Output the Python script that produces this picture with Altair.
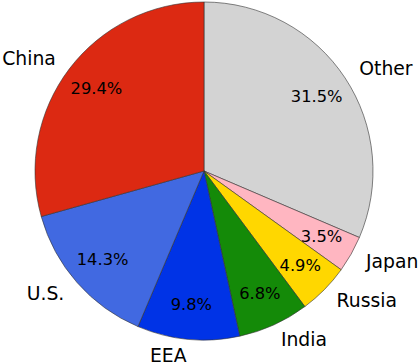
import math
import altair as alt
import pandas as pd

countries = ["Other", "Japan", "Russia", "India", "EEA", "U.S.", "China"]
shares = [31.5, 3.5, 4.9, 6.8, 9.8, 14.3, 29.4]
colors = ["#d3d3d3", "#ffb6c1", "#ffd700", "#148a08", "#0033e6", "#4169e1", "#dc2912"]

df = pd.DataFrame({"country": countries, "share": shares, "order": list(range(len(countries)))})

theta_scale = alt.Scale(domain=[0, 1], range=[0, 2 * math.pi])

base = (
    alt.Chart(df)
    .transform_window(cum="sum(share)", sort=[alt.SortField("order")], frame=[None, 0])
    .transform_joinaggregate(total="sum(share)")
    .transform_calculate(
        start="(datum.cum - datum.share) / datum.total",
        end="datum.cum / datum.total",
        mid="(datum.cum - datum.share / 2) / datum.total",
        pct="format(datum.share, '.1f') + '%'",
    )
)

arcs = base.mark_arc(radius=169, stroke="#333333", strokeWidth=0.6).encode(
    theta=alt.Theta("start:Q", scale=theta_scale),
    theta2="end:Q",
    color=alt.Color("country:N", scale=alt.Scale(domain=countries, range=colors), legend=None),
)

pct_text = base.mark_text(radius=135, font="DejaVu Sans", fontSize=16.3, color="black",
                          align="center", baseline="middle").encode(
    theta=alt.Theta("mid:Q", scale=theta_scale),
    text="pct:N",
)

right_labels = base.transform_filter("datum.mid < 0.5").mark_text(
    radius=186, font="DejaVu Sans", fontSize=18.8, color="black", align="left", baseline="middle"
).encode(theta=alt.Theta("mid:Q", scale=theta_scale), text="country:N")

left_labels = base.transform_filter("datum.mid >= 0.5").mark_text(
    radius=186, font="DejaVu Sans", fontSize=18.8, color="black", align="right", baseline="middle"
).encode(theta=alt.Theta("mid:Q", scale=theta_scale), text="country:N")

chart = (
    alt.layer(arcs, pct_text, right_labels, left_labels)
    .properties(
        width=408,
        height=342,
        padding={"left": 0, "top": 0, "right": 11, "bottom": 21},
        autosize=alt.AutoSizeParams(type="none"),
    )
    .configure_view(stroke=None)
)

chart.save("out.html", embed_options={"renderer": "svg", "actions": False})
